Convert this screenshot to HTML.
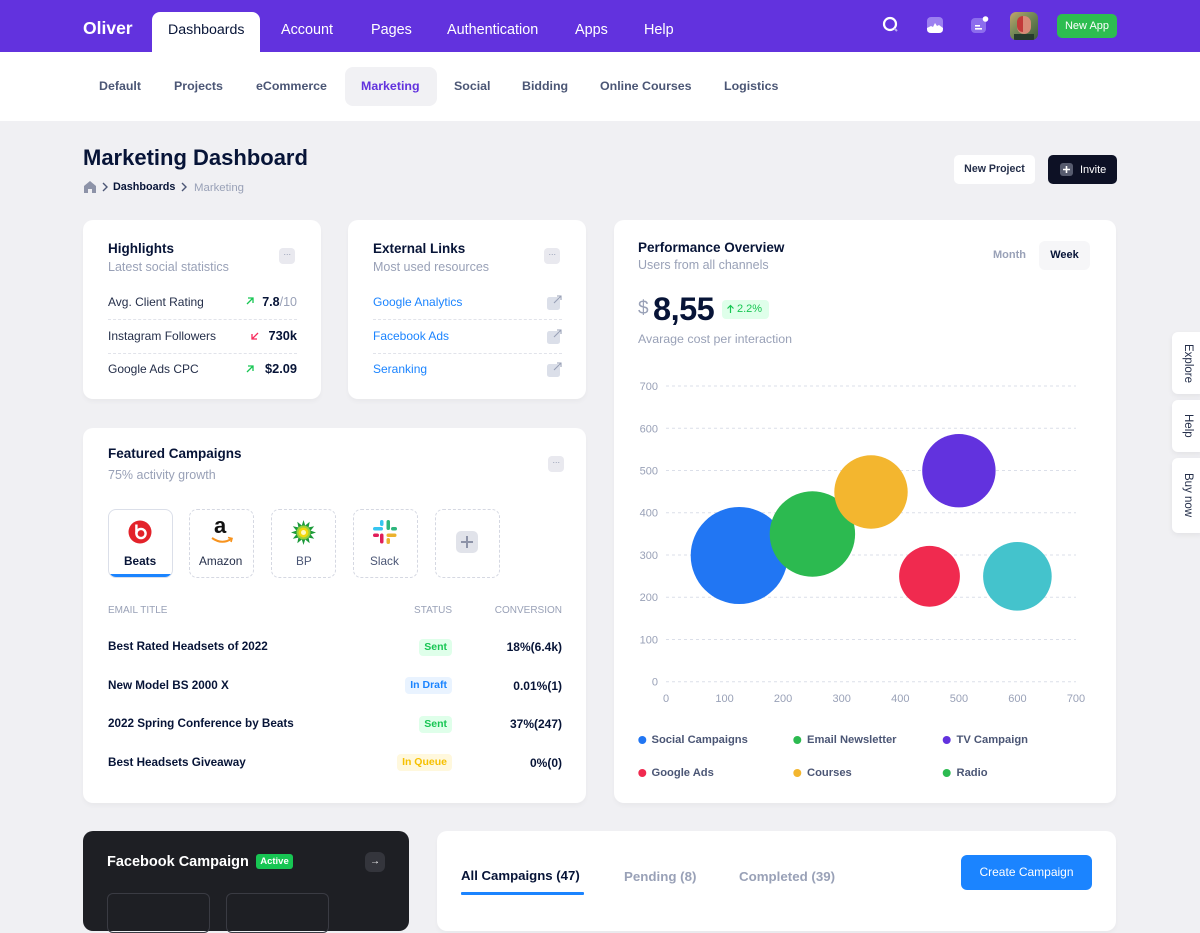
<!DOCTYPE html>
<html><head><meta charset="utf-8"><style>
*{margin:0;padding:0;box-sizing:border-box}
body{width:1200px;height:900px;overflow:hidden;background:#f0f0f3;font-family:"Liberation Sans",Arial,sans-serif;position:relative}
.a{position:absolute}
.t{position:absolute;white-space:nowrap;line-height:1}
.card{position:absolute;background:#fff;border-radius:10px;box-shadow:0 3px 5px rgba(0,0,0,.03)}
.nav{color:#fff;font-size:14.4px;top:22.8px}
.sub{color:#4b5675;font-size:12.4px;font-weight:bold;top:79.8px}
.ttl{font-size:13.5px;font-weight:bold;color:#071437}
.st{font-size:12.5px;color:#99a1b7}
.row{font-size:12px;color:#252f4a}
.sep{position:absolute;height:0;border-top:1px dashed #e1e3ea}
.dots{position:absolute;width:16px;height:16px;background:#e9e9ef;border-radius:4px;color:#99a1b7;font-size:9px;line-height:12px;text-align:center;letter-spacing:-0.5px}
.tile{position:absolute;top:509px;width:65px;height:69px;border:1px dashed #d5d8e2;border-radius:8px}
.lbl{font-size:11.8px;top:556px}
.th{font-size:10px;color:#99a1b7;top:606px}
.tr{font-size:11.7px;font-weight:bold;color:#071437}
.bd{position:absolute;height:17px;border-radius:4px;font-size:10.5px;font-weight:bold;line-height:17px;padding:0 5px;white-space:nowrap}
.lg{font-size:11.2px;font-weight:bold;color:#4b5675}
.side{position:absolute;left:1172px;width:30px;background:#fff;border-radius:6px 0 0 6px;box-shadow:0 2px 6px rgba(0,0,0,.06);writing-mode:vertical-rl;font-size:11.5px;color:#252f4a;line-height:28px;text-align:center}
</style></head><body>

<!-- top bar -->
<div class="a" style="left:0;top:0;width:1200px;height:52px;background:#6232de"></div>
<div class="t" style="left:83px;top:19.5px;font-size:17.5px;font-weight:bold;color:#fff">Oliver</div>
<div class="a" style="left:152px;top:12px;width:108px;height:41px;background:#fff;border-radius:8px 8px 0 0"></div>
<div class="t nav" style="left:168px;color:#071437;font-size:14.2px;top:23.3px">Dashboards</div>
<div class="t nav" style="left:281px;top:23.3px">Account</div>
<div class="t nav" style="left:371px;top:23.3px">Pages</div>
<div class="t nav" style="left:447px;top:23.3px">Authentication</div>
<div class="t nav" style="left:575px;top:23.3px">Apps</div>
<div class="t nav" style="left:644px;top:23.3px">Help</div>

<svg class="a" style="left:880px;top:14px" width="22" height="22" viewBox="0 0 22 22"><circle cx="10" cy="10" r="6" fill="none" stroke="#fff" stroke-width="2.2"/><line x1="14.5" y1="14.5" x2="17" y2="17" stroke="#b8a6f2" stroke-width="2"/></svg>
<svg class="a" style="left:927px;top:17px" width="16" height="16" viewBox="0 0 16 16"><rect x="0" y="0" width="16" height="16" rx="4" fill="#9c80f0"/><path d="M0 11 L4 9 L6 10 L8 6 L10 9 L12 8 L16 11 L16 12 Q16 16 12 16 L4 16 Q0 16 0 12Z" fill="#fff"/></svg>
<svg class="a" style="left:970px;top:15px" width="20" height="20" viewBox="0 0 20 20"><rect x="1" y="3" width="15" height="15" rx="4" fill="#8c6ded"/><rect x="5" y="10" width="5" height="1.6" fill="#fff"/><rect x="5" y="13" width="7" height="1.6" fill="#fff"/><circle cx="15.5" cy="4" r="2.8" fill="#fff"/></svg>
<div class="a" style="left:1010px;top:12px;width:28px;height:28px;border-radius:6px;background:linear-gradient(135deg,#c4a46a 0%,#7a8c5a 40%,#3c5a3a 100%);overflow:hidden">
  <div class="a" style="left:7px;top:4px;width:14px;height:18px;border-radius:7px;background:#d88a78"></div>
  <div class="a" style="left:7px;top:4px;width:6px;height:16px;border-radius:6px 0 0 6px;background:#c23a3a"></div>
  <div class="a" style="left:4px;top:22px;width:20px;height:8px;background:#263a2e"></div>
</div>
<div class="a" style="left:1057px;top:14px;width:60px;height:24px;background:#2dbd50;border-radius:5px;color:#fff;font-size:11px;line-height:24px;text-align:center">New App</div>

<!-- sub nav -->
<div class="a" style="left:0;top:52px;width:1200px;height:69px;background:#fff"></div>
<div class="a" style="left:345px;top:67px;width:92px;height:39px;background:#f1f1f4;border-radius:8px"></div>
<div class="t sub" style="left:99px">Default</div>
<div class="t sub" style="left:174px">Projects</div>
<div class="t sub" style="left:256px">eCommerce</div>
<div class="t sub" style="left:361px;color:#6232de">Marketing</div>
<div class="t sub" style="left:454px">Social</div>
<div class="t sub" style="left:522px">Bidding</div>
<div class="t sub" style="left:600px">Online Courses</div>
<div class="t sub" style="left:724px">Logistics</div>

<!-- title -->
<div class="t" style="left:83px;top:147px;font-size:22px;font-weight:bold;color:#071437">Marketing Dashboard</div>
<svg class="a" style="left:83px;top:180px" width="14" height="14" viewBox="0 0 14 14"><path d="M1 6 L7 1 L13 6 L13 13 L9 13 L9 9 L5 9 L5 13 L1 13Z" fill="#8d93a8"/></svg>
<svg class="a" style="left:101px;top:182px" width="8" height="10" viewBox="0 0 8 10"><path d="M2 1 L6 5 L2 9" fill="none" stroke="#4b5675" stroke-width="1.4"/></svg>
<div class="t" style="left:113px;top:181.6px;font-size:10.8px;font-weight:bold;color:#071437">Dashboards</div>
<svg class="a" style="left:180px;top:182px" width="8" height="10" viewBox="0 0 8 10"><path d="M2 1 L6 5 L2 9" fill="none" stroke="#4b5675" stroke-width="1.4"/></svg>
<div class="t" style="left:194px;top:182.5px;font-size:11.4px;color:#99a1b7">Marketing</div>

<div class="a" style="left:954px;top:155px;width:81px;height:29px;background:#fff;border-radius:5px;font-size:10.6px;font-weight:bold;color:#252f4a;line-height:29px;text-align:center">New Project</div>
<div class="a" style="left:1048px;top:155px;width:69px;height:29px;background:#0d1125;border-radius:5px"></div>
<svg class="a" style="left:1060px;top:163px" width="13" height="13" viewBox="0 0 13 13"><rect width="13" height="13" rx="3" fill="#565b6e"/><path d="M6.5 3 V10 M3 6.5 H10" stroke="#fff" stroke-width="1.6"/></svg>
<div class="t" style="left:1080px;top:164.5px;font-size:11px;color:#fff">Invite</div>

<!-- Highlights -->
<div class="card" style="left:83px;top:220px;width:238px;height:179px"></div>
<div class="t ttl" style="left:108px;top:242px">Highlights</div>
<div class="t st" style="left:108px;top:261px">Latest social statistics</div>
<div class="dots" style="left:279px;top:248px">···</div>
<div class="t row" style="left:108px;top:296px">Avg. Client Rating</div>
<div class="t row" style="left:108px;top:330px">Instagram Followers</div>
<div class="t row" style="left:108px;top:363px">Google Ads CPC</div>
<div class="sep" style="left:108px;top:319px;width:189px"></div>
<div class="sep" style="left:108px;top:353px;width:189px"></div>
<svg class="a" style="left:245px;top:296px" width="10" height="10" viewBox="0 0 10 10"><path d="M2 8 L8 2 M3 2 H8 V7" fill="none" stroke="#17c653" stroke-width="1.3"/></svg>
<svg class="a" style="left:250px;top:331px" width="10" height="10" viewBox="0 0 10 10"><path d="M8 2 L2 8 M2 3 V8 H7" fill="none" stroke="#f8285a" stroke-width="1.3"/></svg>
<svg class="a" style="left:245px;top:364px" width="10" height="10" viewBox="0 0 10 10"><path d="M2 8 L8 2 M3 2 H8 V7" fill="none" stroke="#17c653" stroke-width="1.3"/></svg>
<div class="t" style="right:903px;top:295.5px;font-size:12.5px;color:#071437"><b>7.8</b><span style="color:#99a1b7">/10</span></div>
<div class="t" style="right:903px;top:329.5px;font-size:12.8px;font-weight:bold;color:#071437">730k</div>
<div class="t" style="right:903px;top:362.5px;font-size:12.8px;font-weight:bold;color:#071437">$2.09</div>

<!-- External Links -->
<div class="card" style="left:348px;top:220px;width:238px;height:179px"></div>
<div class="t ttl" style="left:373px;top:242px">External Links</div>
<div class="t st" style="left:373px;top:261px">Most used resources</div>
<div class="dots" style="left:544px;top:248px">···</div>
<div class="t row" style="left:373px;top:296px;color:#1b84ff">Google Analytics</div>
<div class="t row" style="left:373px;top:330px;color:#1b84ff">Facebook Ads</div>
<div class="t row" style="left:373px;top:363px;color:#1b84ff">Seranking</div>
<div class="sep" style="left:373px;top:319px;width:189px"></div>
<div class="sep" style="left:373px;top:353px;width:189px"></div>
<svg class="a" style="left:547px;top:295px" width="15" height="15" viewBox="0 0 15 15"><rect x="0" y="2" width="13" height="13" rx="2.5" fill="#dbdfe9"/><path d="M7 8 L14 1 M10 1 H14 V5" fill="none" stroke="#99a1b7" stroke-width="1.1"/></svg>
<svg class="a" style="left:547px;top:329px" width="15" height="15" viewBox="0 0 15 15"><rect x="0" y="2" width="13" height="13" rx="2.5" fill="#dbdfe9"/><path d="M7 8 L14 1 M10 1 H14 V5" fill="none" stroke="#99a1b7" stroke-width="1.1"/></svg>
<svg class="a" style="left:547px;top:362px" width="15" height="15" viewBox="0 0 15 15"><rect x="0" y="2" width="13" height="13" rx="2.5" fill="#dbdfe9"/><path d="M7 8 L14 1 M10 1 H14 V5" fill="none" stroke="#99a1b7" stroke-width="1.1"/></svg>

<!-- Featured Campaigns -->
<div class="card" style="left:83px;top:428px;width:503px;height:375px"></div>
<div class="t ttl" style="left:108px;top:447px">Featured Campaigns</div>
<div class="t st" style="left:108px;top:469px">75% activity growth</div>
<div class="dots" style="left:548px;top:456px">···</div>

<div class="tile" style="left:108px;border:1px solid #dbdfe9;overflow:hidden"><div class="a" style="left:0;bottom:0;width:63px;height:3px;background:#1b84ff"></div></div>
<div class="tile" style="left:189px"></div>
<div class="tile" style="left:271px"></div>
<div class="tile" style="left:353px"></div>
<div class="tile" style="left:435px"></div>

<svg class="a" style="left:128px;top:520px" width="24" height="24" viewBox="0 0 24 24"><circle cx="12" cy="12" r="11.5" fill="#e3222a"/><circle cx="13" cy="13.5" r="4.6" fill="none" stroke="#fff" stroke-width="2.4"/><rect x="7.2" y="4.5" width="2.4" height="9" fill="#fff"/></svg>
<div class="t" style="left:214px;top:515px;font-size:22px;font-weight:bold;color:#111">a</div>
<svg class="a" style="left:210px;top:536px" width="24" height="10" viewBox="0 0 24 10"><path d="M2 2 Q12 9 21 3" fill="none" stroke="#f7931e" stroke-width="2"/><path d="M18 1.5 L22 2.5 L21 6" fill="none" stroke="#f7931e" stroke-width="1.6"/></svg>
<svg class="a" style="left:291px;top:520px" width="25" height="25" viewBox="0 0 25 25"><polygon points="12.5,0 14.2,5.5 18.7,1.8 17.6,7.4 23.2,6.2 19.6,10.6 25,12.5 19.6,14.4 23.2,18.8 17.6,17.6 18.7,23.2 14.2,19.5 12.5,25 10.8,19.5 6.3,23.2 7.4,17.6 1.8,18.8 5.4,14.4 0,12.5 5.4,10.6 1.8,6.2 7.4,7.4 6.3,1.8 10.8,5.5" fill="#1b9a3a"/><circle cx="12.5" cy="12.5" r="7" fill="#9bd13a"/><circle cx="12.5" cy="12.5" r="5" fill="#f2d90c"/><circle cx="12.5" cy="12.5" r="2.5" fill="#fff9c0"/></svg>
<svg class="a" style="left:372px;top:519px" width="26" height="26" viewBox="0 0 26 26"><rect x="1" y="8" width="10" height="3.5" rx="1.75" fill="#36c5f0"/><rect x="8" y="1" width="3.5" height="6" rx="1.75" fill="#36c5f0"/><rect x="14.5" y="1" width="3.5" height="10" rx="1.75" fill="#2eb67d"/><rect x="19" y="8" width="6" height="3.5" rx="1.75" fill="#2eb67d"/><rect x="14.5" y="14.5" width="10" height="3.5" rx="1.75" fill="#ecb22e"/><rect x="14.5" y="19" width="3.5" height="6" rx="1.75" fill="#ecb22e"/><rect x="8" y="14.5" width="3.5" height="10" rx="1.75" fill="#e01e5a"/><rect x="1" y="14.5" width="6" height="3.5" rx="1.75" fill="#e01e5a"/></svg>
<svg class="a" style="left:456px;top:531px" width="22" height="22" viewBox="0 0 22 22"><rect width="22" height="22" rx="5" fill="#e1e3ea"/><path d="M11 5 V17 M5 11 H17" stroke="#8d93a8" stroke-width="2"/></svg>

<div class="t lbl" style="left:124px;font-weight:bold;color:#071437">Beats</div>
<div class="t lbl" style="left:199px;color:#252f4a">Amazon</div>
<div class="t lbl" style="left:296px;color:#4b5675">BP</div>
<div class="t lbl" style="left:370px;color:#4b5675">Slack</div>

<div class="t th" style="left:108px">EMAIL TITLE</div>
<div class="t th" style="right:748px">STATUS</div>
<div class="t th" style="right:638px">CONVERSION</div>

<div class="t tr" style="left:108px;top:641px">Best Rated Headsets of 2022</div>
<div class="t tr" style="left:108px;top:680px">New Model BS 2000 X</div>
<div class="t tr" style="left:108px;top:718px">2022 Spring Conference by Beats</div>
<div class="t tr" style="left:108px;top:757px">Best Headsets Giveaway</div>
<div class="bd" style="right:748px;top:639px;background:#dfffea;color:#17c653">Sent</div>
<div class="bd" style="right:748px;top:677px;background:#e9f3ff;color:#1b84ff">In Draft</div>
<div class="bd" style="right:748px;top:716px;background:#dfffea;color:#17c653">Sent</div>
<div class="bd" style="right:748px;top:754px;background:#fff8dd;color:#f6c000">In Queue</div>
<div class="t tr" style="right:638px;top:641px;font-size:12px">18%(6.4k)</div>
<div class="t tr" style="right:638px;top:680px;font-size:12px">0.01%(1)</div>
<div class="t tr" style="right:638px;top:718px;font-size:12px">37%(247)</div>
<div class="t tr" style="right:638px;top:757px;font-size:12px">0%(0)</div>

<!-- Performance Overview -->
<div class="card" style="left:614px;top:220px;width:502px;height:583px"></div>
<div class="t ttl" style="left:638px;top:240.5px">Performance Overview</div>
<div class="t st" style="left:638px;top:259px">Users from all channels</div>
<div class="t" style="left:993px;top:249.5px;font-size:11px;font-weight:bold;color:#99a1b7">Month</div>
<div class="a" style="left:1039px;top:241px;width:51px;height:29px;background:#f6f6f8;border-radius:6px;font-size:11px;font-weight:bold;color:#071437;line-height:29px;text-align:center">Week</div>
<div class="t" style="left:638px;top:298.5px;font-size:19px;color:#99a1b7">$</div>
<div class="t" style="left:653px;top:293px;font-size:32.5px;font-weight:bold;color:#071437;letter-spacing:-0.5px">8,55</div>
<div class="a" style="left:722px;top:300px;width:47px;height:19px;background:#dfffea;border-radius:4px"></div>
<svg class="a" style="left:726px;top:304px" width="9" height="10" viewBox="0 0 9 10"><path d="M4.5 9 V2 M1.5 4.5 L4.5 1.5 L7.5 4.5" fill="none" stroke="#17c653" stroke-width="1.2"/></svg>
<div class="t" style="left:737px;top:304px;font-size:11px;color:#17c653">2.2%</div>
<div class="t" style="left:638px;top:333px;font-size:12.4px;color:#99a1b7">Avarage cost per interaction</div>

<svg class="a" style="left:614px;top:370px" width="502" height="345" viewBox="614 370 502 345">
  <g stroke="#dbdfe9" stroke-width="1" stroke-dasharray="3 3">
    <line x1="666" y1="386" x2="1076" y2="386"/>
    <line x1="666" y1="428.3" x2="1076" y2="428.3"/>
    <line x1="666" y1="470.5" x2="1076" y2="470.5"/>
    <line x1="666" y1="512.7" x2="1076" y2="512.7"/>
    <line x1="666" y1="555" x2="1076" y2="555"/>
    <line x1="666" y1="597.2" x2="1076" y2="597.2"/>
    <line x1="666" y1="639.5" x2="1076" y2="639.5"/>
    <line x1="666" y1="681.7" x2="1076" y2="681.7"/>
  </g>
  <g font-family="Liberation Sans, Arial, sans-serif" font-size="11" fill="#99a1b7" text-anchor="end">
    <text x="658" y="390">700</text>
    <text x="658" y="432.3">600</text>
    <text x="658" y="474.5">500</text>
    <text x="658" y="516.7">400</text>
    <text x="658" y="559">300</text>
    <text x="658" y="601.2">200</text>
    <text x="658" y="643.5">100</text>
    <text x="658" y="685.7">0</text>
  </g>
  <g font-family="Liberation Sans, Arial, sans-serif" font-size="11" fill="#99a1b7" text-anchor="middle">
    <text x="666" y="702">0</text>
    <text x="724.6" y="702">100</text>
    <text x="783.1" y="702">200</text>
    <text x="841.7" y="702">300</text>
    <text x="900.3" y="702">400</text>
    <text x="958.9" y="702">500</text>
    <text x="1017.4" y="702">600</text>
    <text x="1076" y="702">700</text>
  </g>
  <circle cx="739.2" cy="555.5" r="48.5" fill="#2176f3"/>
  <circle cx="812.4" cy="534" r="42.7" fill="#2cba50"/>
  <circle cx="871" cy="492" r="36.7" fill="#f3b62f"/>
  <circle cx="958.9" cy="470.7" r="36.7" fill="#6232de"/>
  <circle cx="929.5" cy="576.3" r="30.4" fill="#f02a4f"/>
  <circle cx="1017.4" cy="576.3" r="34.3" fill="#44c3cc"/>
</svg>

<svg class="a" style="left:614px;top:720px" width="502" height="70" viewBox="614 720 502 70">
  <circle cx="642.3" cy="740" r="4" fill="#2176f3"/>
  <circle cx="797.3" cy="740" r="4" fill="#2cba50"/>
  <circle cx="946.7" cy="740" r="4" fill="#6232de"/>
  <circle cx="642.3" cy="773" r="4" fill="#f02a4f"/>
  <circle cx="797.3" cy="773" r="4" fill="#f3b62f"/>
  <circle cx="946.7" cy="773" r="4" fill="#2cba50"/>
</svg>
<div class="t lg" style="left:651.5px;top:735px">Social Campaigns</div>
<div class="t lg" style="left:807px;top:735px">Email Newsletter</div>
<div class="t lg" style="left:956.5px;top:735px">TV Campaign</div>
<div class="t lg" style="left:651.5px;top:768px">Google Ads</div>
<div class="t lg" style="left:807px;top:768px">Courses</div>
<div class="t lg" style="left:956.5px;top:768px">Radio</div>

<!-- side tabs -->
<div class="side" style="top:332px;height:62px">Explore</div>
<div class="side" style="top:400px;height:52px">Help</div>
<div class="side" style="top:458px;height:75px">Buy now</div>

<!-- bottom cards -->
<div class="a" style="left:83px;top:831px;width:326px;height:100px;background:#1e1f24;border-radius:10px"></div>
<div class="t" style="left:107px;top:855px;font-size:14.5px;font-weight:bold;color:#fff">Facebook Campaign</div>
<div class="a" style="left:256px;top:854px;width:37px;height:15px;background:#17c653;border-radius:3px;color:#fff;font-size:9.5px;font-weight:bold;line-height:15px;text-align:center">Active</div>
<div class="a" style="left:365px;top:852px;width:20px;height:20px;background:#34353c;border-radius:6px;color:#fff;font-size:10px;line-height:20px;text-align:center">→</div>
<div class="a" style="left:107px;top:893px;width:103px;height:40px;border:1px solid #3a3b43;border-radius:6px"></div>
<div class="a" style="left:226px;top:893px;width:103px;height:40px;border:1px solid #3a3b43;border-radius:6px"></div>

<div class="card" style="left:437px;top:831px;width:679px;height:100px"></div>
<div class="t" style="left:461px;top:869px;font-size:13.2px;font-weight:bold;color:#071437">All Campaigns (47)</div>
<div class="a" style="left:461px;top:892px;width:123px;height:3px;background:#1b84ff;border-radius:1px"></div>
<div class="t" style="left:624px;top:869.5px;font-size:13.3px;font-weight:bold;color:#99a1b7">Pending (8)</div>
<div class="t" style="left:739px;top:869.5px;font-size:13.3px;font-weight:bold;color:#99a1b7">Completed (39)</div>
<div class="a" style="left:961px;top:855px;width:131px;height:35px;background:#1b84ff;border-radius:6px;color:#fff;font-size:12px;line-height:35px;text-align:center">Create Campaign</div>

</body></html>
